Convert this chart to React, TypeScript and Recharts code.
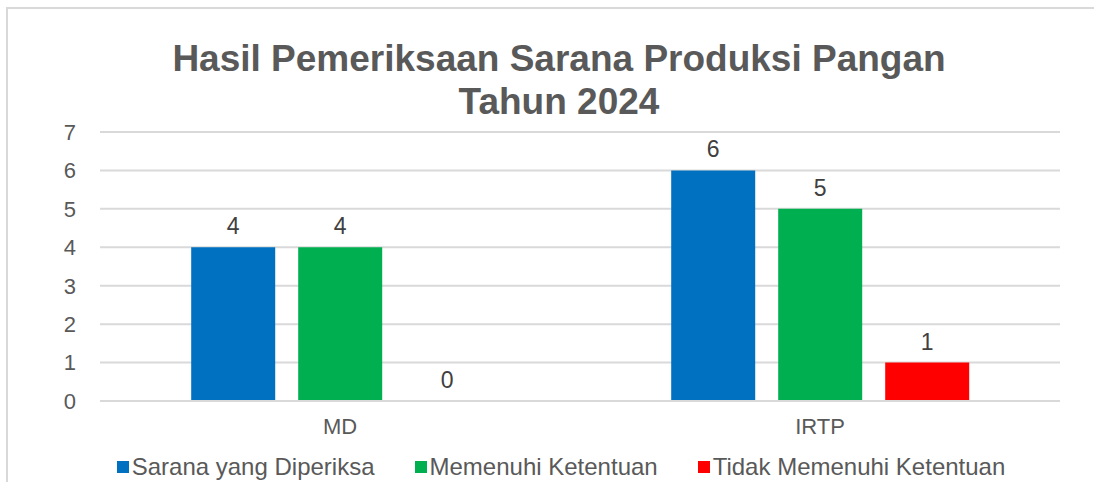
import React from 'react'
import { BarChart, Bar, XAxis, YAxis, CartesianGrid, Legend, LabelList } from 'recharts'

const categories = ['MD', 'IRTP']
const saranaDiperiksa = [4, 6]
const memenuhi = [4, 5]
const tidakMemenuhi = [0, 1]
const yTicks = [0, 1, 2, 3, 4, 5, 6, 7]

const series = [
  { key: 'diperiksa', name: 'Sarana yang Diperiksa', color: '#0070C0' },
  { key: 'memenuhi', name: 'Memenuhi Ketentuan', color: '#00B050' },
  { key: 'tidak', name: 'Tidak Memenuhi Ketentuan', color: '#FF0000' },
]

const data = categories.map((c, i) => ({
  name: c,
  diperiksa: saranaDiperiksa[i],
  memenuhi: memenuhi[i],
  tidak: tidakMemenuhi[i],
}))

const FONT = 'Arial, "Liberation Sans", sans-serif'
const TEXT = '#595959'

function LegendContent() {
  return (
    <div style={{ display: 'flex', justifyContent: 'center', height: 30, alignItems: 'center', fontFamily: FONT, fontSize: 24, color: TEXT }}>
      {series.map((s) => (
        <div key={s.key} style={{ display: 'flex', alignItems: 'center', margin: '0 20px' }}>
          <span style={{ width: 12, height: 12, background: s.color, display: 'inline-block', marginRight: 3 }} />
          <span>{s.name}</span>
        </div>
      ))}
    </div>
  )
}

export default function App() {
  return (
    <div style={{ position: 'absolute', left: 0, top: 0, width: 1094, height: 482, background: '#fff', overflow: 'hidden' }}>
      <div style={{ position: 'absolute', left: 6, top: 7, width: 1100, height: 500, border: '2px solid #d9d9d9', boxSizing: 'border-box' }} />
      <div style={{ position: 'absolute', left: 0, top: 37, width: 1118, textAlign: 'center', fontFamily: FONT, fontWeight: 'bold', fontSize: 37, lineHeight: '43px', color: TEXT }}>
        Hasil Pemeriksaan Sarana Produksi Pangan
        <br />
        Tahun 2024
      </div>
      <BarChart
        width={1094}
        height={482}
        data={data}
        margin={{ top: 132, right: 34, left: 0, bottom: 5 }}
        barCategoryGap="19%"
        barGap={23}
        style={{ position: 'absolute', left: 0, top: 0 }}
      >
        <CartesianGrid vertical={false} stroke="#d9d9d9" strokeWidth={2} />
        <XAxis
          dataKey="name"
          height={46}
          axisLine={{ stroke: '#d9d9d9', strokeWidth: 2 }}
          tickLine={false}
          tickMargin={11}
          tick={{ fill: TEXT, fontSize: 22, fontFamily: FONT }}
        />
        <YAxis
          width={100}
          domain={[0, 7]}
          ticks={yTicks}
          axisLine={false}
          tickLine={false}
          tickMargin={18}
          tick={{ fill: TEXT, fontSize: 22, fontFamily: FONT }}
        />
        <Legend verticalAlign="bottom" content={<LegendContent />} wrapperStyle={{ top: 452, left: 0, width: 1122 }} />
        {series.map((s) => (
          <Bar key={s.key} dataKey={s.key} name={s.name} fill={s.color} minPointSize={0.01} isAnimationActive={false}>
            <LabelList dataKey={s.key} position="top" offset={13} fill="#404040" fontSize={23} fontFamily={FONT} />
          </Bar>
        ))}
      </BarChart>
    </div>
  )
}
